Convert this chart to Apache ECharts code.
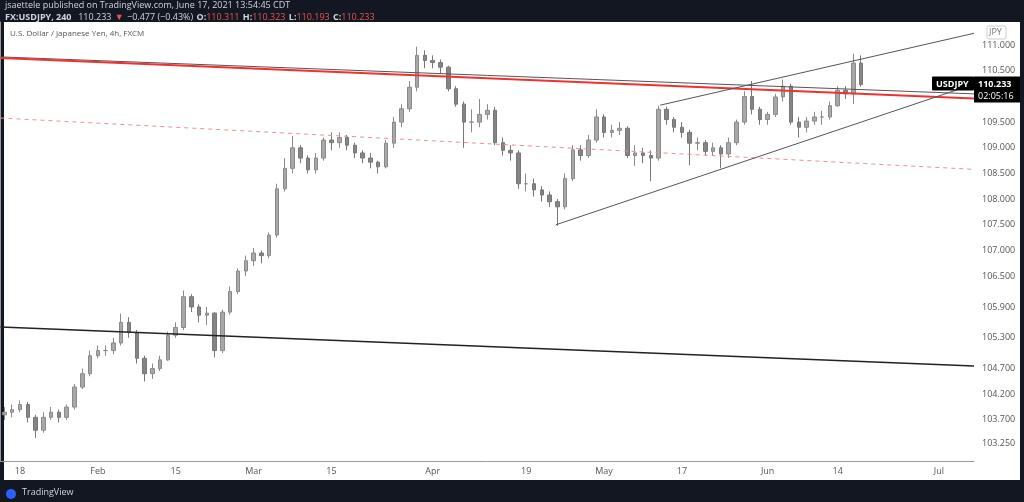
<!DOCTYPE html>
<html><head><meta charset="utf-8">
<script src="https://cdn.jsdelivr.net/npm/echarts@6/dist/echarts.min.js"></script>
<style>html,body{margin:0;padding:0;background:#131722;}#c{width:1024px;height:502px;}</style>
</head><body><div id="c"></div>
<script>
const opens=[103.8,103.85,103.9,104.0,103.75,103.5,103.75,103.85,103.75,103.95,
104.34,104.6,104.95,105.05,105.05,105.2,105.6,105.4,104.9,104.6,
104.7,104.87,105.35,105.5,106.1,105.9,105.74,105.78,105.05,105.8,
106.2,106.6,106.8,106.95,106.9,107.3,108.2,108.6,109.0,108.8,
108.57,108.8,109.15,109.1,109.2,109.05,108.9,108.8,108.72,108.63,
109.09,109.5,109.76,110.18,110.8,110.7,110.66,110.57,110.15,109.85,
109.5,109.5,109.65,109.73,109.1,108.95,108.9,108.3,108.3,108.18,
108.08,107.95,107.85,108.4,108.96,108.85,109.15,109.6,109.3,109.34,
109.38,108.85,108.9,108.85,108.8,109.75,109.55,109.4,109.3,109.09,
109.1,108.93,109.0,108.88,109.1,109.5,110.0,109.75,109.55,109.65,
109.99,110.2,109.5,109.4,109.52,109.6,109.6,109.82,110.12,110.05,110.65];
const closes=[103.85,103.9,104.0,103.75,103.5,103.75,103.85,103.75,103.95,104.34,
104.6,104.95,105.05,105.05,105.2,105.6,105.4,104.9,104.6,104.7,
104.87,105.35,105.5,106.1,105.9,105.74,105.78,105.05,105.8,106.2,
106.6,106.8,106.95,106.9,107.3,108.2,108.6,109.0,108.8,108.57,
108.8,109.15,109.1,109.2,109.05,108.9,108.8,108.72,108.63,109.09,
109.5,109.76,110.18,110.8,110.7,110.66,110.57,110.15,109.85,109.5,
109.5,109.65,109.73,109.1,108.95,108.9,108.3,108.3,108.18,108.08,
107.95,107.85,108.4,108.96,108.85,109.15,109.6,109.3,109.34,109.38,
108.85,108.9,108.85,108.8,109.75,109.55,109.4,109.3,109.09,109.1,
108.93,109.0,108.88,109.1,109.5,110.0,109.75,109.55,109.65,109.99,
110.2,109.5,109.4,109.52,109.6,109.6,109.82,110.12,110.05,110.65,110.233];
const highs=[103.95,104.0,104.08,104.05,103.8,103.85,103.95,103.9,104.0,104.4,
104.7,105.05,105.15,105.15,105.3,105.77,105.7,105.45,104.95,104.8,
104.95,105.42,105.6,106.22,106.15,105.95,105.9,105.8,105.85,106.3,
106.65,106.9,107.05,107.0,107.35,108.3,108.8,109.23,109.05,108.85,
108.9,109.2,109.3,109.3,109.25,109.1,108.95,108.9,108.75,109.15,
109.6,109.85,110.3,110.97,110.9,110.8,110.72,110.6,110.2,109.9,
109.75,109.95,109.85,109.8,109.2,109.05,108.95,108.5,108.4,108.25,
108.15,108.0,108.5,109.05,109.05,109.25,109.75,109.65,109.45,109.5,
109.42,109.05,109.0,108.95,109.82,109.8,109.6,109.5,109.35,109.2,
109.15,109.1,109.05,109.2,109.55,110.1,110.3,109.8,109.7,110.05,
110.33,110.25,109.6,109.6,109.7,109.72,109.9,110.2,110.2,110.83,110.8];
const lows=[103.7,103.75,103.85,103.65,103.35,103.45,103.7,103.65,103.7,103.9,
104.3,104.55,104.9,104.95,104.98,105.15,105.3,104.8,104.45,104.5,
104.65,104.85,105.3,105.45,105.8,105.6,105.55,104.92,105.0,105.75,
106.15,106.5,106.7,106.75,106.85,107.25,108.15,108.5,108.7,108.5,
108.5,108.75,108.95,109.0,108.95,108.8,108.7,108.6,108.5,108.6,
109.0,109.4,109.7,110.1,110.55,110.55,110.45,110.1,109.8,109.0,
109.3,109.4,109.55,109.05,108.85,108.75,108.2,108.15,108.05,107.95,
107.85,107.48,107.8,108.35,108.75,108.8,109.1,109.2,109.2,109.25,
108.8,108.65,108.7,108.35,108.75,109.45,109.3,109.2,108.66,108.95,
108.85,108.85,108.6,108.8,109.05,109.45,109.65,109.45,109.45,109.6,
109.9,109.45,109.2,109.3,109.45,109.45,109.55,109.8,109.95,109.85,110.19];
const yTickLabels=[111.0,110.5,110.0,109.5,109.0,108.5,108.0,107.5,107.0,106.5,105.9,105.3,104.7,104.2,103.7,103.25];
const xTickLabels={"2021-01-18":"18","2021-02-01":"Feb","2021-02-15":"15","2021-03-01":"Mar","2021-03-15":"15","2021-04-01":"Apr","2021-04-19":"19","2021-05-03":"May","2021-05-17":"17","2021-06-01":"Jun","2021-06-14":"14","2021-07-01":"Jul"};
const resistanceRed=[[0,110.75],[125,109.96]];
const resistanceGrey=[[0,110.77],[125,110.05]];
const dashedRed=[[0,109.58],[125,108.58]];
const supportBlack=[[0,105.51],[125,104.75]];
const channelUpper=[[84.7,109.83],[125,111.23]];
const channelLower=[[71.3,107.5],[125,110.24]];
const lastPrice=110.233;

const N=125;
const dates=[];
let d=new Date(Date.UTC(2021,0,14));
while(dates.length<N){const w=d.getUTCDay();if(w!==0&&w!==6)dates.push(d.toISOString().slice(0,10));d=new Date(d.getTime()+86400000);}
const candles=opens.map((o,i)=>[o,closes[i],lows[i],highs[i]]);

const chart=echarts.init(document.getElementById('c'));
const ln=(data,color,width,type)=>({type:'line',xAxisIndex:1,data,symbol:'none',silent:true,lineStyle:{color,width,type:type||'solid'},z:5});
const baseGraphic=[
    {type:'rect',shape:{x:4,y:22,width:1016,height:458},style:{fill:'#ffffff'},z:-10},
    {type:'text',left:5,top:1,style:{text:'jsaettele published on TradingView.com, June 17, 2021 13:54:45 CDT',fill:'#d1d4dc',font:'9px "Open Sans"'}},
    {type:'text',left:5,top:11,style:{text:'{b|FX:USDJPY, 240}  {w|110.233} {r|▼} {w|−0.477 (−0.43%)} {b|O:}{r|110.311} {b|H:}{r|110.323} {b|L:}{r|110.193} {b|C:}{r|110.233}',rich:{b:{fill:'#d1d4dc',font:'bold 9px "Open Sans"'},w:{fill:'#d1d4dc',font:'9px "Open Sans"'},r:{fill:'#ef5350',font:'9px "Open Sans"'}}}},
    {type:'text',left:10,top:30,style:{text:'U.S. Dollar / Japanese Yen, 4h, FXCM',fill:'#555',font:'8px "Open Sans"'}},
    {type:'rect',shape:{x:987,y:26,width:19,height:13,r:2},style:{fill:'#fff',stroke:'#ccc'}},
    {type:'text',x:989,y:28,style:{text:'JPY',fill:'#777',font:'9px "Open Sans"'}},
    {type:'text',left:22,top:488,style:{text:'TradingView',fill:'#d1d4dc',font:'9px "Open Sans"'}},
    {type:'circle',shape:{cx:11,cy:494,r:5},style:{fill:'#2962ff'}}
];
chart.setOption({
  backgroundColor:'#131722',animation:false,
  graphic:baseGraphic,
  grid:{left:0.5,top:22,width:973.5,height:439,containLabel:false},
  xAxis:[{type:'category',data:dates,boundaryGap:true,
    axisLine:{lineStyle:{color:'#999'}},axisTick:{show:false},splitLine:{show:false},
    axisLabel:{interval:0,color:'#555',fontSize:9,fontFamily:'Open Sans',formatter:v=>xTickLabels[v]||'',margin:6}},
    {type:'value',min:0,max:N,show:false}],
  yAxis:{type:'value',position:'right',min:102.9,max:111.45,interval:0.05,
    axisLine:{show:true,lineStyle:{color:'#999'}},axisTick:{show:false},splitLine:{show:false},
    axisLabel:{color:'#555',fontSize:9,fontFamily:'Open Sans',margin:8,showMinLabel:false,showMaxLabel:false,
      formatter:v=>{const m=yTickLabels.find(t=>Math.abs(t-v)<0.001);return m===undefined?'':m.toFixed(3);}}},
  series:[
    {type:'candlestick',data:candles,barWidth:4,itemStyle:{color:'#a8a8a8',color0:'#858585',borderColor:'#8a8a8a',borderColor0:'#777777',borderWidth:1},z:3},
    ln(dashedRed,'#f28b8b',1,[4,4]),
    ln(resistanceGrey,'#555',1),
    ln(resistanceRed,'#f23030',2),
    ln(supportBlack,'#222',1.5),
    ln(channelUpper,'#555',1),
    ln(channelLower,'#555',1)
  ]
});
const py=chart.convertToPixel({yAxisIndex:0},lastPrice);
chart.setOption({graphic:baseGraphic.concat([
  {type:'rect',shape:{x:932,y:py-8,width:42,height:14,r:1},style:{fill:'#000'},z:50},
  {type:'text',x:936,y:py-5,style:{text:'USDJPY',fill:'#fff',font:'bold 9px "Open Sans"'},z:51},
  {type:'rect',shape:{x:974,y:py-8,width:46,height:26},style:{fill:'#000'},z:50},
  {type:'text',x:978,y:py-5,style:{text:'110.233',fill:'#fff',font:'bold 9px "Open Sans"'},z:51},
  {type:'text',x:978,y:py+7,style:{text:'02:05:16',fill:'#fff',font:'9px "Open Sans"'},z:51}
])});
</script></body></html>
